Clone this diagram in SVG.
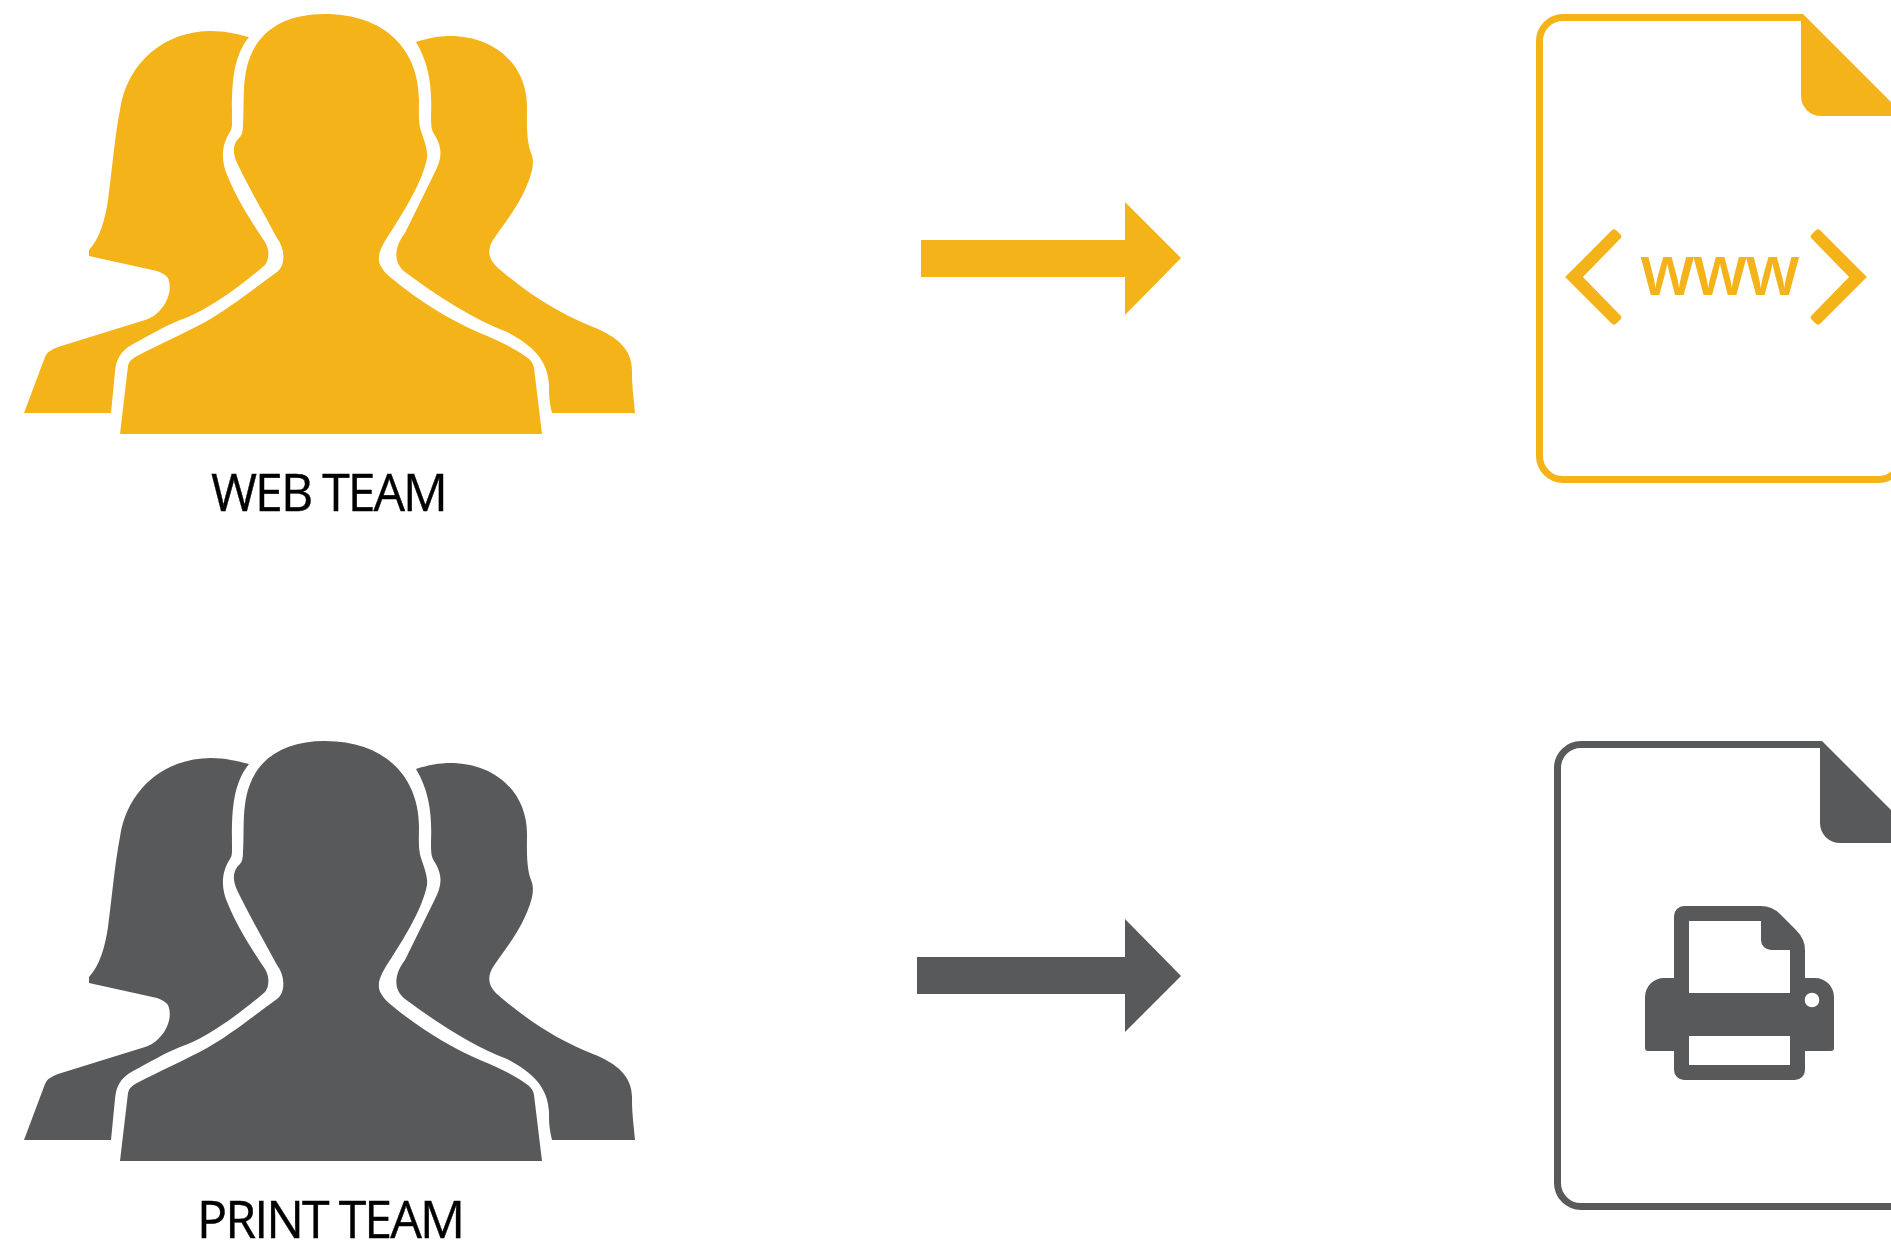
<svg xmlns="http://www.w3.org/2000/svg" xmlns:xlink="http://www.w3.org/1999/xlink" width="1891" height="1243" viewBox="0 0 1891 1243">
<style>
.o{fill:#F5B31A}.g{fill:#58595B}
.lbl{font-family:"Open Sans","Noto Sans",sans-serif;font-size:51px;letter-spacing:-2px;fill:#000;stroke:#000;stroke-width:.4px}
.chev{stroke:#F5B31A;stroke-width:1.2px;stroke-linejoin:round}
</style>
<defs>
<g id="team">
<path d="M24,413 L45,357 Q47,351 58,347 L145,320 C160,316 175,295 168,278 Q165,274 157,271 L89,256 V250 C100,238 105,220 108,200 C112,170 115,135 120,110 C127,62 165,31 211,31 C225,31 237,34 249,37 C230,60 232,95 232,125 Q232,129 230,132 C222,144 220,160 228,177 C235,195 250,220 265,242 C270,250 269,260 265,265 C245,282 210,310 180,320 C165,326 150,335 133,344 C120,351 116,360 115,372 L111,413 Z"/>
<path d="M416,42 C428,38 440,36 450,36 C495,36 527,65 527,107 C527,120 526,140 531,153 C535,162 532,172 529,180 C520,205 505,222 493,240 C487,250 488,259 498,268 C525,291 555,312 593,327 C618,337 633,350 632,373 C632,388 634,400 635,413 L552,413 C549,400 549,395 549,385 C548,360 532,345 507,332 C475,320 440,298 405,272 C393,263 394,247 405,233 L435,172 C442,158 443,148 434,134 C431,129 431,124 431,115 C432,90 430,65 416,42 Z"/>
<path d="M120,434 L128,366 Q129,360 137,356 C160,344 185,333 207,321 C230,308 255,288 277,272 C285,266 286,250 277,238 C268,221 250,190 237,163 C232,152 233,143 240,137 Q243,134 243,125 C244,110 243,90 245,78 C250,35 280,14 325,14 C385,14 419,50 419,100 C419,110 418,122 421,131 C424,140 428,150 427,158 C423,180 405,210 392,230 C380,248 375,258 382,268 C385,273 388,275 390,277 C420,302 450,320 480,333 C500,341 515,349 525,356 Q533,361 534,368 L542,434 Z"/>
</g>
</defs>
<rect width="1891" height="1243" fill="#fff"/>
<g id="web-team" class="o">
<use xlink:href="#team"/>
<text class="lbl" x="211" y="511" textLength="235" lengthAdjust="spacingAndGlyphs">WEB TEAM</text>
</g>
<g id="print-team" class="g">
<use xlink:href="#team" y="727"/>
<text class="lbl" x="197" y="1238" textLength="266" lengthAdjust="spacingAndGlyphs">PRINT TEAM</text>
</g>
<g id="connectors">
<path class="o" d="M921,240 H1125 V202 L1181,258 L1125,315 V277 H921 Z"/>
<path class="g" d="M917,957 H1125 V919 L1181,976 L1125,1032 V994 H917 Z"/>
</g>
<g id="web-doc">
<path d="M1803,17.500 H1563 A23.500,23.500 0 0 0 1539.500,41 V456 A23.500,23.500 0 0 0 1563,479.500 H1878 A23.500,23.500 0 0 0 1897,470" fill="none" stroke="#F5B31A" stroke-width="7"/>
<path class="o" d="M1801,14 H1803 L1905,116 H1821 A20,20 0 0 1 1801,96 Z"/>
<path class="o chev" d="M1566,277 L1612,231 Q1614,229 1616,231 L1620,235 Q1621.500,236.500 1620,238 L1582,277 L1620,316 Q1621.500,317.500 1620,319 L1616,323 Q1614,325.500 1612,323 Z"/>
<path class="o chev" d="M1866,277 L1820,231 Q1818,229 1816,231 L1812,235 Q1810.500,236.500 1812,238 L1850,277 L1812,316 Q1810.500,317.500 1812,319 L1816,323 Q1818,325.500 1820,323 Z"/>
<text x="1640" y="295" font-family="'Open Sans','Noto Sans',sans-serif" font-size="71" font-weight="600" letter-spacing="-2" class="o" textLength="158" lengthAdjust="spacingAndGlyphs">www</text>
</g>
<g id="print-doc">
<path d="M1822,744.500 H1581 A23.500,23.500 0 0 0 1557.500,768 V1183 A23.500,23.500 0 0 0 1581,1206.500 H1891" fill="none" stroke="#58595B" stroke-width="7"/>
<path class="g" d="M1820,741 H1822 L1924,843 H1840 A20,20 0 0 1 1820,823 Z"/>
<path class="g" fill-rule="evenodd" d="M1684,906 H1761 Q1772,906 1780,914 L1796,930 Q1805,939 1805,950 V978 H1815 A19,19 0 0 1 1834,997 V1048 Q1834,1051 1831,1051 H1805 V1070 A10,10 0 0 1 1795,1080 H1684 A10,10 0 0 1 1674,1070 V1051 H1648 Q1645,1051 1645,1048 V997 A19,19 0 0 1 1664,978 H1674 V916 A10,10 0 0 1 1684,906 Z
M1689,921 V993 H1790 V950 H1771 A10,10 0 0 1 1761,940 V921 Z
M1689,1036 V1065 H1790 V1036 Z
M1819.300,1000 A7.300,7.300 0 1 0 1804.700,1000 A7.300,7.300 0 1 0 1819.300,1000 Z"/>
</g>
</svg>
